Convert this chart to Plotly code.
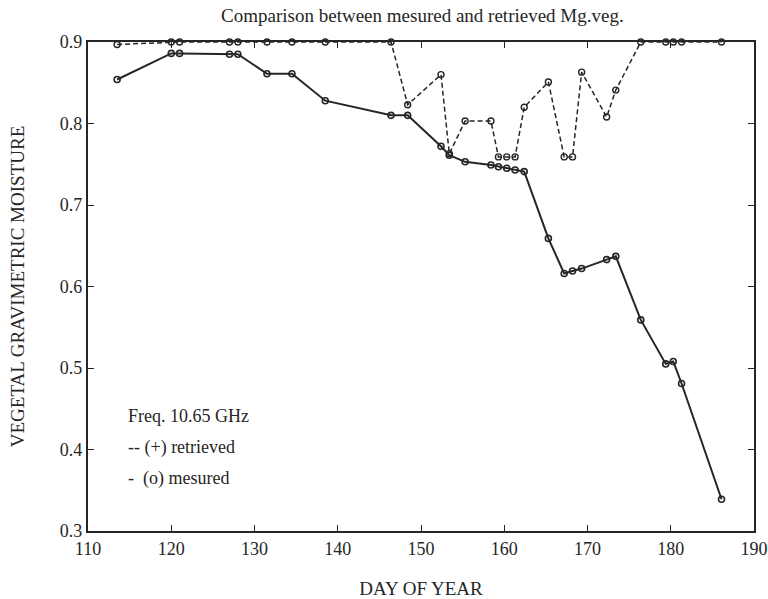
import plotly.graph_objects as go

days = [113.5, 120, 121, 127, 128, 131.5, 134.5, 138.5, 146.4, 148.4, 152.4, 153.4,
        155.3, 158.4, 159.3, 160.3, 161.3, 162.4, 165.3, 167.2, 168.2, 169.3, 172.3,
        173.4, 176.4, 179.4, 180.3, 181.3, 186.1]
measured = [0.854, 0.886, 0.886, 0.885, 0.885, 0.861, 0.861, 0.828, 0.810, 0.810, 0.772, 0.761,
            0.753, 0.749, 0.747, 0.745, 0.743, 0.741, 0.659, 0.616, 0.619, 0.622, 0.633,
            0.637, 0.559, 0.505, 0.508, 0.481, 0.339]
retrieved = [0.897, 0.9, 0.9, 0.9, 0.9, 0.9, 0.9, 0.9, 0.9, 0.823, 0.860, 0.763,
             0.803, 0.803, 0.759, 0.759, 0.759, 0.820, 0.851, 0.759, 0.759, 0.863, 0.808,
             0.841, 0.9, 0.9, 0.9, 0.9, 0.9]

x_ticks = [110, 120, 130, 140, 150, 160, 170, 180, 190]
y_ticks = [0.3, 0.4, 0.5, 0.6, 0.7, 0.8, 0.9]

title_text = "Comparison between mesured and retrieved Mg.veg."
x_title = "DAY OF YEAR"
y_title = "VEGETAL GRAVIMETRIC MOISTURE"
notes = ["Freq. 10.65 GHz", "-- (+) retrieved", "-  (o) mesured"]
note_y = [0.441, 0.402, 0.364]

ink = "#262626"
font = "Liberation Serif"

fig = go.Figure()
fig.add_trace(go.Scatter(
    x=days, y=retrieved, mode="lines+markers",
    line=dict(color=ink, width=1.5, dash="5px,3px"),
    marker=dict(symbol="circle-open", size=6, color=ink, line=dict(width=1.4)),
    showlegend=False, cliponaxis=False))
fig.add_trace(go.Scatter(
    x=days, y=measured, mode="lines+markers",
    line=dict(color=ink, width=2),
    marker=dict(symbol="circle-open", size=6, color=ink, line=dict(width=1.6)),
    showlegend=False, cliponaxis=False))

for t, yy in zip(notes, note_y):
    fig.add_annotation(x=114.6, y=yy, text=t, showarrow=False, xanchor="left",
                       yanchor="middle", font=dict(family=font, size=18, color=ink))

fig.update_layout(
    width=768, height=599,
    margin=dict(l=88, r=14, t=42, b=68),
    paper_bgcolor="white", plot_bgcolor="white",
    title=dict(text=title_text, x=0.55, xanchor="center", y=0.975, yanchor="middle",
               font=dict(family=font, size=19, color=ink)),
    font=dict(family=font, size=18, color=ink),
)
fig.update_xaxes(
    range=[110, 190], tickvals=x_ticks, ticktext=[str(v) for v in x_ticks],
    ticks="inside", ticklen=6, tickwidth=1.2, tickcolor=ink,
    showline=True, linewidth=2.4, linecolor=ink, mirror="ticks",
    showgrid=False, zeroline=False, automargin=False,
    title=dict(text=x_title, font=dict(family=font, size=19, color=ink), standoff=26),
    tickfont=dict(family=font, size=18, color=ink))
fig.update_yaxes(
    range=[0.3, 0.9], tickvals=y_ticks, ticktext=[f"{v:.1f}" for v in y_ticks],
    ticks="inside", ticklen=6, tickwidth=1.2, tickcolor=ink,
    showline=True, linewidth=2.4, linecolor=ink, mirror="ticks",
    showgrid=False, zeroline=False, automargin=False,
    title=dict(text=y_title, font=dict(family=font, size=19, color=ink), standoff=30),
    tickfont=dict(family=font, size=18, color=ink))

fig.write_html("out.html", config={"displayModeBar": False},
               post_script="document.body.style.margin='0';")
